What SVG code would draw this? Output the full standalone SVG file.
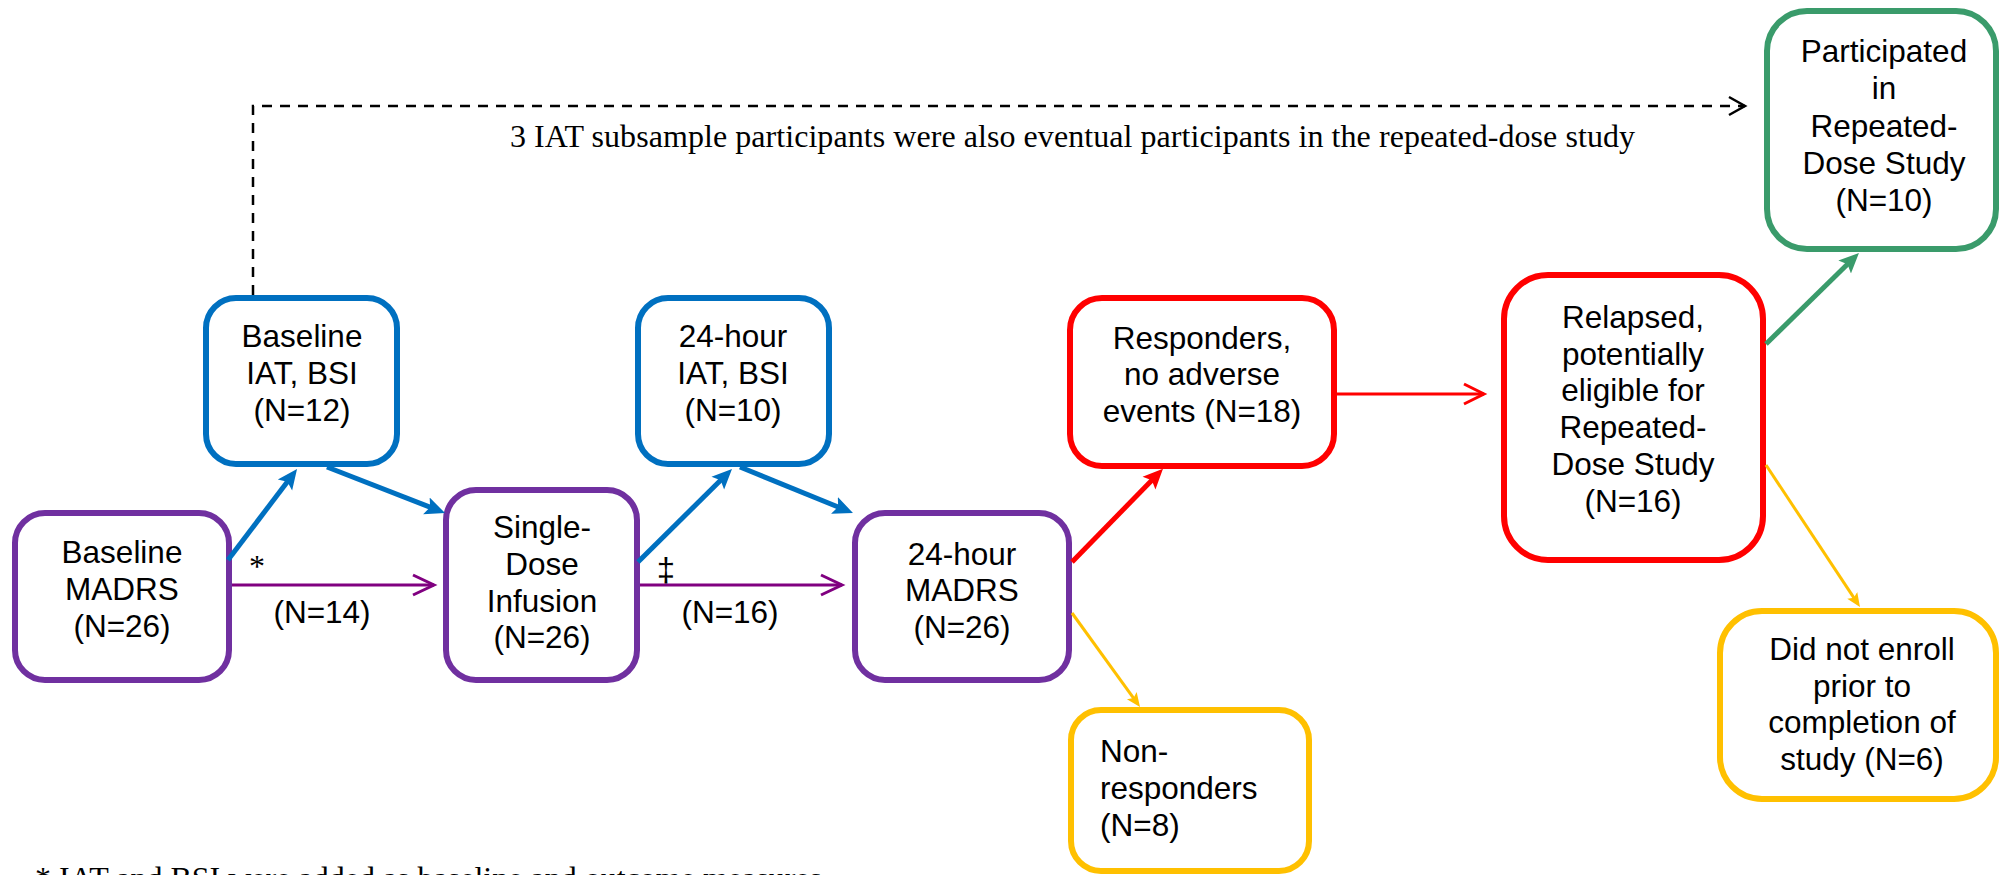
<svg xmlns="http://www.w3.org/2000/svg" width="2001" height="875" viewBox="0 0 2001 875">
<style>
  .box{fill:#fff;stroke-width:6}
  .purple{stroke:#7030A0}
  .blue{stroke:#0070C0}
  .red{stroke:#FF0000}
  .yellow{stroke:#FFC000}
  .green{stroke:#3A9B6B}
  .lbl{font-family:"Liberation Sans",Arial,Helvetica,sans-serif;font-size:31.5px;fill:#000;text-anchor:middle}
  .lbl-left{font-family:"Liberation Sans",Arial,Helvetica,sans-serif;font-size:31.5px;fill:#000;text-anchor:start}
  .serif{font-family:"Liberation Serif","Times New Roman",serif;font-size:32px;fill:#000}
  .conn{fill:none}
  .thick{stroke-width:5}
  .thin{stroke-width:3}
</style>
<defs>
  <marker id="hBlue" viewBox="0 0 20 20" markerWidth="20" markerHeight="20" refX="10" refY="10" orient="auto" markerUnits="userSpaceOnUse"><path d="M0,1 L20,10 L0,19 L4,10 z" fill="#0070C0"/></marker>
  <marker id="hRed" viewBox="0 0 20 20" markerWidth="20" markerHeight="20" refX="10" refY="10" orient="auto" markerUnits="userSpaceOnUse"><path d="M0,1 L20,10 L0,19 L4,10 z" fill="#FF0000"/></marker>
  <marker id="hGreen" viewBox="0 0 20 20" markerWidth="20" markerHeight="20" refX="10" refY="10" orient="auto" markerUnits="userSpaceOnUse"><path d="M0,1 L20,10 L0,19 L4,10 z" fill="#3A9B6B"/></marker>
  <marker id="hYellow" viewBox="0 0 14 14" markerWidth="14" markerHeight="14" refX="7" refY="7" orient="auto" markerUnits="userSpaceOnUse"><path d="M0,1 L14,7 L0,13 L3,7 z" fill="#FFC000"/></marker>
  <marker id="cPurple" viewBox="-24 -12 28 24" markerWidth="28" markerHeight="24" refX="0" refY="0" orient="auto" markerUnits="userSpaceOnUse" overflow="visible"><path d="M-21,-10 L0,0 L-21,10" fill="none" stroke="#800080" stroke-width="3"/></marker>
  <marker id="cRed" viewBox="-24 -12 28 24" markerWidth="28" markerHeight="24" refX="0" refY="0" orient="auto" markerUnits="userSpaceOnUse" overflow="visible"><path d="M-20,-10 L0,0 L-20,10" fill="none" stroke="#FF0000" stroke-width="3"/></marker>
  <marker id="cBlack" viewBox="-20 -11 24 22" markerWidth="24" markerHeight="22" refX="0" refY="0" orient="auto" markerUnits="userSpaceOnUse" overflow="visible"><path d="M-16,-9 L0,0 L-16,9" fill="none" stroke="#000" stroke-width="2.5"/></marker>
</defs>
<rect x="0" y="0" width="2001" height="875" fill="#fff"/>

<g id="baseline-madrs">
  <rect class="box purple" x="15" y="513" width="214" height="167" rx="30"/>
  <text class="lbl" x="122" y="563">Baseline</text>
  <text class="lbl" x="122" y="600">MADRS</text>
  <text class="lbl" x="122" y="637">(N=26)</text>
</g>
<g id="baseline-iat">
  <rect class="box blue" x="206" y="298" width="191" height="166" rx="30"/>
  <text class="lbl" x="302" y="347">Baseline</text>
  <text class="lbl" x="302" y="384">IAT, BSI</text>
  <text class="lbl" x="302" y="421">(N=12)</text>
</g>
<g id="single-dose">
  <rect class="box purple" x="446" y="490" width="191" height="190" rx="30"/>
  <text class="lbl" x="542" y="538">Single-</text>
  <text class="lbl" x="542" y="575">Dose</text>
  <text class="lbl" x="542" y="612">Infusion</text>
  <text class="lbl" x="542" y="648">(N=26)</text>
</g>
<g id="iat-24h">
  <rect class="box blue" x="638" y="298" width="191" height="166" rx="30"/>
  <text class="lbl" x="733" y="347">24-hour</text>
  <text class="lbl" x="733" y="384">IAT, BSI</text>
  <text class="lbl" x="733" y="421">(N=10)</text>
</g>
<g id="madrs-24h">
  <rect class="box purple" x="855" y="513" width="214" height="167" rx="30"/>
  <text class="lbl" x="962" y="565">24-hour</text>
  <text class="lbl" x="962" y="601">MADRS</text>
  <text class="lbl" x="962" y="638">(N=26)</text>
</g>
<g id="responders">
  <rect class="box red" x="1070" y="298" width="264" height="168" rx="32"/>
  <text class="lbl" x="1202" y="349">Responders,</text>
  <text class="lbl" x="1202" y="385">no adverse</text>
  <text class="lbl" x="1202" y="422">events (N=18)</text>
</g>
<g id="non-responders">
  <rect class="box yellow" x="1071" y="710" width="238" height="161" rx="30"/>
  <text class="lbl-left" x="1100" y="762">Non-</text>
  <text class="lbl-left" x="1100" y="799">responders</text>
  <text class="lbl-left" x="1100" y="836">(N=8)</text>
</g>
<g id="relapsed">
  <rect class="box red" x="1504" y="275" width="259" height="285" rx="44"/>
  <text class="lbl" x="1633" y="328">Relapsed,</text>
  <text class="lbl" x="1633" y="365">potentially</text>
  <text class="lbl" x="1633" y="401">eligible for</text>
  <text class="lbl" x="1633" y="438">Repeated-</text>
  <text class="lbl" x="1633" y="475">Dose Study</text>
  <text class="lbl" x="1633" y="512">(N=16)</text>
</g>
<g id="participated">
  <rect class="box green" x="1767" y="11" width="229" height="238" rx="40"/>
  <text class="lbl" x="1884" y="62">Participated</text>
  <text class="lbl" x="1884" y="99">in</text>
  <text class="lbl" x="1884" y="137">Repeated-</text>
  <text class="lbl" x="1884" y="174">Dose Study</text>
  <text class="lbl" x="1884" y="211">(N=10)</text>
</g>
<g id="did-not-enroll">
  <rect class="box yellow" x="1720" y="611" width="276" height="188" rx="42"/>
  <text class="lbl" x="1862" y="660">Did not enroll</text>
  <text class="lbl" x="1862" y="697">prior to</text>
  <text class="lbl" x="1862" y="733">completion of</text>
  <text class="lbl" x="1862" y="770">study (N=6)</text>
</g>

<g id="connectors">
  <path class="conn" d="M253,295 V106 H1745" stroke="#000" stroke-width="2.5" stroke-dasharray="10 8" marker-end="url(#cBlack)"/>
  <path class="conn blue thick" d="M228,560 L291,477" marker-end="url(#hBlue)"/>
  <path class="conn blue thick" d="M327,467 L435.7,509.4" marker-end="url(#hBlue)"/>
  <path class="conn blue thick" d="M638,562 L724.9,476" marker-end="url(#hBlue)"/>
  <path class="conn blue thick" d="M740,467 L843.7,509.2" marker-end="url(#hBlue)"/>
  <path class="conn thin" stroke="#800080" d="M232,585 H434" marker-end="url(#cPurple)"/>
  <path class="conn thin" stroke="#800080" d="M640,585 H842" marker-end="url(#cPurple)"/>
  <path class="conn red thick" d="M1072,562 L1156,476" marker-end="url(#hRed)"/>
  <path class="conn red thin" d="M1337,394 H1484" marker-end="url(#cRed)"/>
  <path class="conn yellow thin" d="M1072,613 L1135.9,701.3" marker-end="url(#hYellow)"/>
  <path class="conn yellow thin" d="M1766,465 L1856.1,601.2" marker-end="url(#hYellow)"/>
  <path class="conn green thick" d="M1766,344 L1851.8,260" marker-end="url(#hGreen)"/>
</g>

<g id="labels">
  <text class="lbl" x="322" y="623">(N=14)</text>
  <text class="lbl" x="730" y="623">(N=16)</text>
  <text class="serif" x="257" y="577" font-size="30" text-anchor="middle">*</text>
  <text x="666" y="581" font-family="'Liberation Sans', Arial, sans-serif" font-size="33" text-anchor="middle">‡</text>
  <text class="serif" x="510" y="147" textLength="1125">3 IAT subsample participants were also eventual participants in the repeated-dose study</text>
  <text class="serif" x="35" y="889" textLength="787">* IAT and BSI were added as baseline and outcome measures</text>
</g>
</svg>
